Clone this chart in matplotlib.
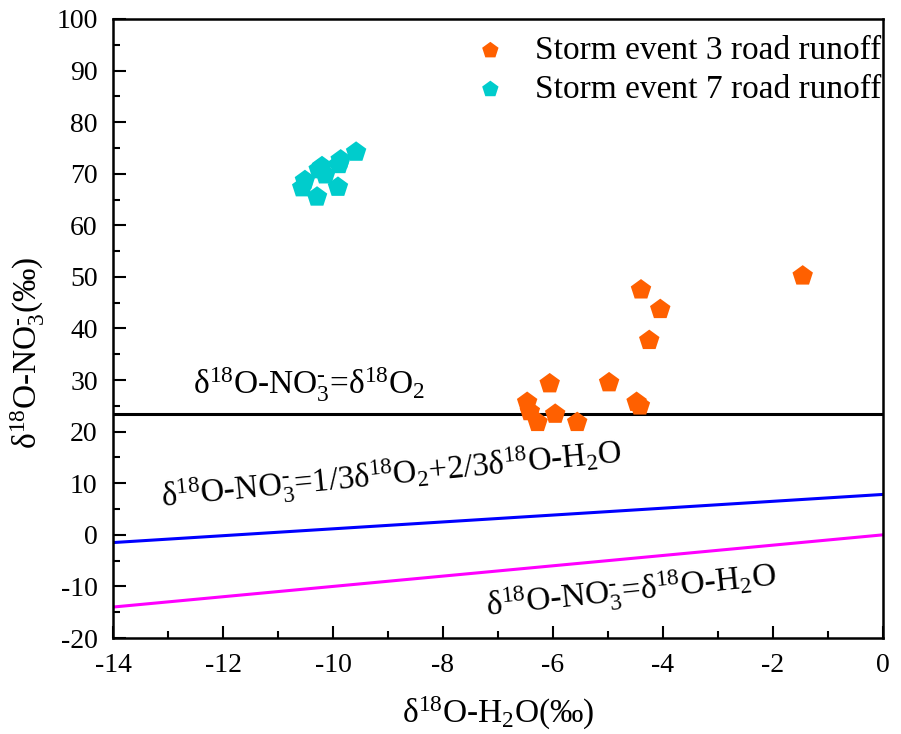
import matplotlib
matplotlib.use("Agg")
import matplotlib.pyplot as plt
from matplotlib.ticker import MultipleLocator

plt.rcParams['font.family'] = ['Liberation Serif', 'DejaVu Serif']
plt.rcParams['mathtext.fontset'] = 'custom'
plt.rcParams['mathtext.rm'] = 'Liberation Serif'
plt.rcParams['mathtext.it'] = 'Liberation Serif:italic'
plt.rcParams['mathtext.bf'] = 'Liberation Serif:bold'
plt.rcParams['axes.unicode_minus'] = False

# storm event 3 road runoff
s3_x = [-4.40, -4.05, -4.25, -4.98, -6.06, -6.47, -6.42, -6.28, -5.96, -5.56, -4.48, -4.42, -1.46]
s3_y = [47.5, 43.7, 37.7, 29.5, 29.3, 25.7, 23.9, 21.8, 23.4, 21.8, 25.7, 25.0, 50.2]
# storm event 7 road runoff
s7_x = [-9.58, -9.86, -9.89, -10.20, -10.26, -10.14, -9.91, -10.51, -10.56, -10.29]
s7_y = [74.2, 72.7, 71.8, 71.4, 70.8, 69.8, 67.4, 68.7, 67.3, 65.5]

o2 = 23.5
xline = [-14, 0]

fig = plt.figure(figsize=(9.01, 7.34), dpi=100)
ax = fig.add_axes([113/901, 1 - 638/734, (883-113)/901, (638-19)/734])

ax.plot(xline, [o2, o2], color='black', lw=2.2)
ax.plot(xline, [o2/3 + 2*x/3 for x in xline], color='#0000ff', lw=2.2)
ax.plot(xline, xline, color='#ff00ff', lw=2.2)

ax.scatter(s3_x, s3_y, marker='p', s=240, color='#ff6000', edgecolors='none',
           label='Storm event 3 road runoff', zorder=3)
ax.scatter(s7_x, s7_y, marker='p', s=240, color='#00cccc', edgecolors='none',
           label='Storm event 7 road runoff', zorder=3)

minus = '‐'
ax.text(-12.55, 27.3, r'δ$^{18}$O-NO$_3^{' + minus + r'}$=δ$^{18}$O$_2$', fontsize=24)
ax.text(-13.1, 5.3, r'δ$^{18}$O-NO$_3^{' + minus + r'}$=1/3δ$^{18}$O$_2$+2/3δ$^{18}$O-H$_2$O',
        fontsize=23.5, rotation=5.5, rotation_mode='anchor')
ax.text(-7.2, -15.7, r'δ$^{18}$O-NO$_3^{' + minus + r'}$=δ$^{18}$O-H$_2$O',
        fontsize=24, rotation=6, rotation_mode='anchor')

ax.set_xlim(-14, 0)
ax.set_ylim(-20, 100)
ax.xaxis.set_major_locator(MultipleLocator(2))
ax.xaxis.set_minor_locator(MultipleLocator(1))
ax.yaxis.set_major_locator(MultipleLocator(10))
ax.yaxis.set_minor_locator(MultipleLocator(5))
ax.tick_params(which='both', direction='in', top=False, right=False, width=1.5)
ax.tick_params(which='major', length=9, labelsize=20, pad=11)
ax.tick_params(which='minor', length=5)
for sp in ax.spines.values():
    sp.set_linewidth(1.8)

ax.set_xlabel(r'δ$^{18}$O-H$_2$O(‰)', fontsize=24, labelpad=12)
ax.set_ylabel(r'δ$^{18}$O-NO$_3^{' + minus + r'}$(‰)', fontsize=24)
ax.yaxis.set_label_coords(-0.086, 0.46)

ax.legend(loc='upper right', bbox_to_anchor=(1.02, 1.0), frameon=False, fontsize=24,
          markerscale=0.8, handlelength=1.5, handletextpad=0.6,
          borderaxespad=0.1, labelspacing=0.25)

fig.savefig('out.png', dpi=100)
